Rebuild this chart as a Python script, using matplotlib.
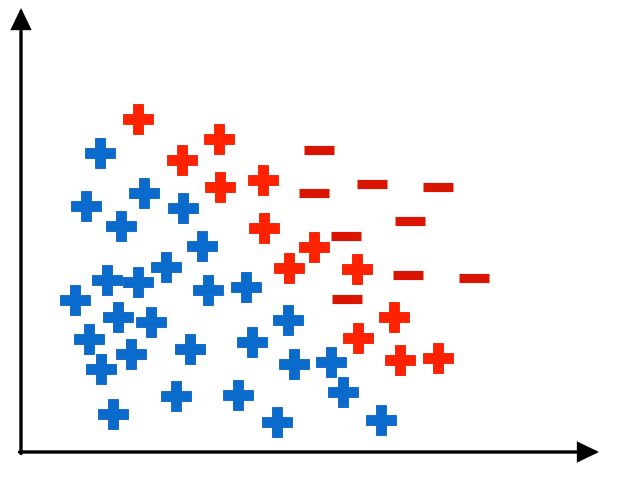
import matplotlib.pyplot as plt

# positions measured from the axes origin (x to the right, y upward)
blue_x = [79, 65, 123, 100, 162, 181, 145, 86, 117, 54, 187, 225, 97, 130,
          68, 110, 169, 231, 267, 80, 273, 310, 92, 155, 217, 256, 322, 360]
blue_y = [299, 246, 259, 226, 244, 206, 185, 172, 170, 152, 162, 165, 135, 130,
          113, 98, 103, 110, 132, 83, 88, 90, 38, 56, 57, 30, 60, 32]

pos_x = [117, 161, 198, 199, 242, 243, 293, 268, 336, 373, 337, 379, 417]
pos_y = [333, 292, 313, 265, 272, 224, 205, 184, 183, 135, 114, 92, 94]

neg_x = [298, 293, 351, 417, 389, 325, 387, 453, 326]
neg_y = [302, 259, 268, 265, 231, 216, 177, 174, 153]

fig = plt.figure(figsize=(6.3, 4.84), dpi=100)
ax = fig.add_axes([0, 0, 1, 1])
ax.set_xlim(-21, 609)
ax.set_ylim(-32, 452)
ax.axis('off')

# axes arrows
arrow = dict(arrowstyle='-|>,head_length=0.6,head_width=0.29', lw=2.4,
             color='black', mutation_scale=20, shrinkA=0, shrinkB=0,
             joinstyle='miter')
ax.annotate('', xy=(0, 444), xytext=(0, -1.5), arrowprops=arrow)
ax.annotate('', xy=(578, 0), xytext=(-1.5, 0), arrowprops=arrow)

ax.plot(blue_x, blue_y, linestyle='none', marker='P', markersize=21,
        color='#0a6bcc', markeredgecolor='#0862bd', markeredgewidth=0.6)
ax.plot(pos_x, pos_y, linestyle='none', marker='P', markersize=21,
        color='#ff2200', markeredgecolor='#ee1c00', markeredgewidth=0.6)
ax.plot(neg_x, neg_y, linestyle='none', marker='_', markersize=21,
        markeredgewidth=6.6, color='#d91500')

plt.savefig('out.png')
